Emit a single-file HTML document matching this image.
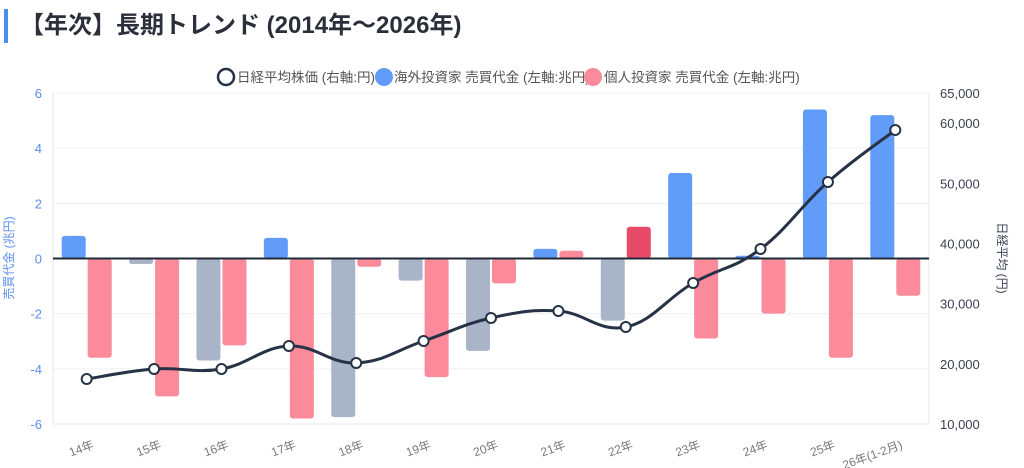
<!DOCTYPE html>
<html><head><meta charset="utf-8"><style>
body{margin:0;background:#fff;width:1024px;height:468px;overflow:hidden;font-family:"Liberation Sans","Noto Sans CJK JP",sans-serif;}
.t{position:absolute;left:4px;top:9px;height:34px;border-left:4px solid #4a8ef0;padding-left:12px;font-size:24px;font-weight:bold;color:#2a2f3a;line-height:34px;}
</style></head><body>
<div class="t">【年次】長期トレンド (2014年〜2026年)</div>
<svg id="s" width="1024" height="468" style="position:absolute;left:0;top:0" font-family="Liberation Sans, Noto Sans CJK JP, sans-serif"></svg>
<script>
const s=document.getElementById('s');let h='';
const L=53,R=929,T=93,B=424,z=258.5,u=(B-T)/12,cw=(R-L)/13;
for(let v=-6;v<=6;v+=2){const y=z-v*u;h+=`<line x1="${L}" x2="${R}" y1="${y}" y2="${y}" stroke="#eef0f3"/>`;h+=`<text x="42" y="${y+5}" text-anchor="end" font-size="13" fill="#5b8ff0">${v}</text>`;}
for(const k of [10000,20000,30000,40000,50000,60000,65000]){const y=B-(k-10000)/55000*(B-T);h+=`<text x="940" y="${y+5}" font-size="13" fill="#3a4150">${k.toLocaleString('en-US')}</text>`;}
h+=`<line x1="${L}" x2="${L}" y1="${T}" y2="${B}" stroke="#e5e7eb"/><line x1="${R}" x2="${R}" y1="${T}" y2="${B}" stroke="#e5e7eb"/><line x1="${L}" x2="${R}" y1="${B}" y2="${B}" stroke="#e5e7eb"/>`;
const f=[0.82,-0.2,-3.7,0.75,-5.75,-0.8,-3.35,0.35,-2.25,3.1,0.1,5.4,5.2];
const p=[-3.6,-5.0,-3.15,-5.8,-0.3,-4.3,-0.9,0.28,1.15,-2.9,-2.0,-3.6,-1.35];
const ly=[379,369,369,346,363,341,318,311,327,283,249,182,130];
const lab=['14年','15年','16年','17年','18年','19年','20年','21年','22年','23年','24年','25年','26年(1-2月)'];
function bar(x,v,c){const y0=z,y1=z-v*u,top=Math.min(y0,y1),ht=Math.abs(y1-y0);h+=`<rect x="${x}" y="${top}" width="24" height="${ht}" rx="3" fill="${c}"/>`;}
const cx=[];
for(let i=0;i<13;i++){const c=L+cw*(i+0.5);cx.push(c);
bar(c-25,f[i],f[i]>=0?'#619cf8':'#a9b4c8');bar(c+1,p[i],p[i]>=0&&i==8?'#e84a6a':'#fb8b9a');
h+=`<text transform="translate(${c+8},${B+24}) rotate(-20)" text-anchor="end" font-size="12" fill="#777">${lab[i]}</text>`;}
h+=`<line x1="${L}" x2="${R}" y1="${z}" y2="${z}" stroke="#1f2937" stroke-width="2"/>`;
let d=`M${cx[0]},${ly[0]}`;
for(let i=0;i<12;i++){const p0=i?[cx[i-1],ly[i-1]]:[cx[i],ly[i]],p1=[cx[i],ly[i]],p2=[cx[i+1],ly[i+1]],p3=i<11?[cx[i+2],ly[i+2]]:p2;const t=0.2;
d+=` C${p1[0]+(p2[0]-p0[0])*t},${p1[1]+(p2[1]-p0[1])*t} ${p2[0]-(p3[0]-p1[0])*t},${p2[1]-(p3[1]-p1[1])*t} ${p2[0]},${p2[1]}`;}
h+=`<path d="${d}" fill="none" stroke="#263245" stroke-width="3"/>`;
for(let i=0;i<13;i++)h+=`<circle cx="${cx[i]}" cy="${ly[i]}" r="5" fill="#fff" stroke="#263245" stroke-width="2"/>`;
h+=`<circle cx="226" cy="77" r="8" fill="#fff" stroke="#263245" stroke-width="2.5"/><text x="237" y="82" font-size="13.5" fill="#555">日経平均株価 (右軸:円)</text>`;
h+=`<circle cx="384" cy="77" r="9" fill="#619cf8"/><text x="394" y="82" font-size="13.5" fill="#555">海外投資家 売買代金 (左軸:兆円)</text>`;
h+=`<circle cx="593" cy="77" r="9" fill="#fb8b9a"/><text x="604" y="82" font-size="13.5" fill="#555">個人投資家 売買代金 (左軸:兆円)</text>`;
h+=`<text transform="translate(13,258) rotate(-90)" text-anchor="middle" font-size="12" fill="#5b8ff0">売買代金 (兆円)</text>`;
h+=`<text transform="translate(998,258) rotate(90)" text-anchor="middle" font-size="12" fill="#3a4150">日経平均 (円)</text>`;
s.innerHTML=h;
</script>
</body></html>
